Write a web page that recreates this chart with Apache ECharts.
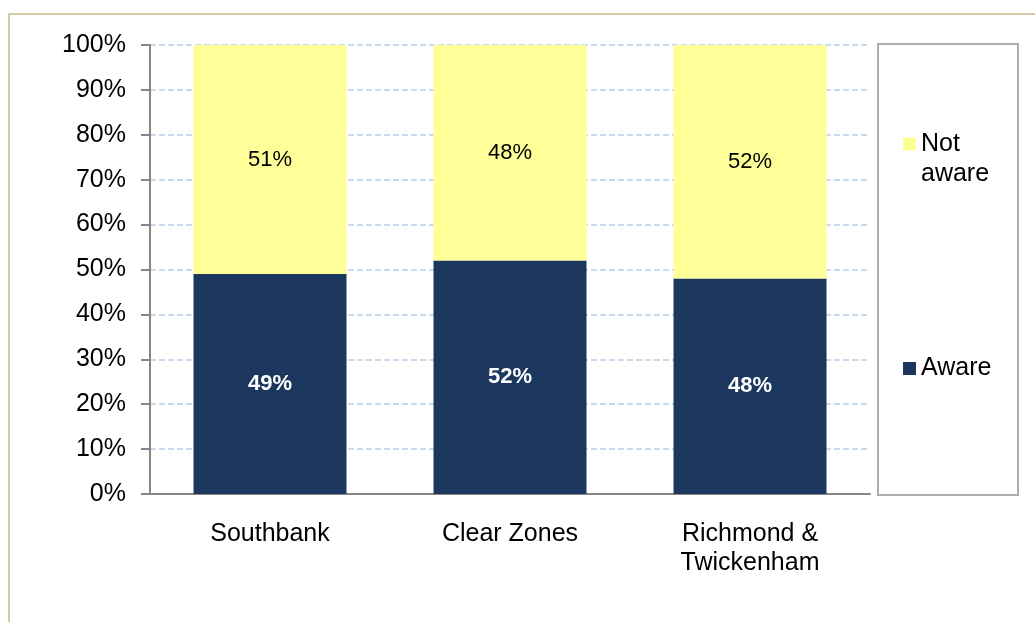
<!DOCTYPE html>
<html>
<head>
<meta charset="utf-8">
<script src="https://cdn.jsdelivr.net/npm/echarts@6/dist/echarts.min.js"></script>
<style>
  html, body { margin: 0; padding: 0; background: #fff; }
  #c1 { width: 1035px; height: 622px; }
</style>
</head>
<body>
<div id="c1"></div>
<script>
var categories = ['Southbank', 'Clear Zones', 'Richmond &\nTwickenham'];
var aware = [49, 52, 48];
var notAware = [51, 48, 52];
var yTicks = [0, 10, 20, 30, 40, 50, 60, 70, 80, 90, 100];

var navy = '#1b375e';
var yellow = '#ffff99';
var font = '"Liberation Sans", Arial, sans-serif';

var dom = document.getElementById("c1");
var myChart = echarts.init(dom);
var option = null;

option = {
    animation: false,
    textStyle: { fontFamily: font },
    grid: {
        left: 150,
        right: 165,
        top: 45,
        bottom: 128
    },
    legend: [
        {
            // blank first line so the marker sits beside "Not"
            data: ['Not aware'],
            orient: 'vertical',
            left: 903,
            top: 99,
            padding: 0,
            icon: 'rect',
            itemWidth: 13,
            itemHeight: 13,
            selectedMode: false,
            formatter: function (name) { return '\u00a0\nNot\naware'; },
            textStyle: { fontSize: 25, color: '#000', lineHeight: 30 }
        },
        {
            data: ['Aware'],
            orient: 'vertical',
            left: 903,
            top: 354,
            padding: 0,
            icon: 'rect',
            itemWidth: 13,
            itemHeight: 13,
            selectedMode: false,
            textStyle: { fontSize: 25, color: '#000', lineHeight: 29 }
        }
    ],
    graphic: [
        {
            type: 'rect',
            z: -10,
            shape: { x: 9, y: 14, width: 1100, height: 700 },
            style: { fill: 'none', stroke: '#d3caa6', lineWidth: 2 }
        },
        {
            type: 'rect',
            z: -5,
            shape: { x: 878, y: 44, width: 140, height: 451 },
            style: { fill: 'none', stroke: '#adadad', lineWidth: 2 }
        }
    ],
    xAxis: {
        type: 'category',
        data: categories,
        axisLine: { lineStyle: { color: '#868686', width: 2 } },
        axisTick: { length: 7, lineStyle: { color: '#868686', width: 2 } },
        axisLabel: { fontSize: 25, color: '#000', lineHeight: 29, margin: 26 }
    },
    yAxis: {
        type: 'value',
        min: yTicks[0],
        max: yTicks[yTicks.length - 1],
        interval: yTicks[1] - yTicks[0],
        axisLine: { show: true, lineStyle: { color: '#868686', width: 2 } },
        axisTick: { show: true, length: 9, lineStyle: { color: '#868686', width: 2 } },
        axisLabel: { fontSize: 25, color: '#000', margin: 24, formatter: '{value}%' },
        splitLine: { lineStyle: { color: '#b9cde5', width: 1.5, type: [6, 3] } }
    },
    series: [
        {
            name: 'Aware',
            type: 'bar',
            stack: 'total',
            barWidth: 153,
            data: aware,
            itemStyle: { color: navy },
            label: {
                show: true,
                position: 'inside',
                formatter: '{c}%',
                color: '#fff',
                fontWeight: 'bold',
                fontSize: 22
            }
        },
        {
            name: 'Not aware',
            type: 'bar',
            stack: 'total',
            barWidth: 153,
            data: notAware,
            itemStyle: { color: yellow },
            label: {
                show: true,
                position: 'inside',
                formatter: '{c}%',
                color: '#000',
                fontSize: 22
            }
        }
    ]
};

if (option && typeof option === "object") {
    myChart.setOption(option, true);
}
</script>
</body>
</html>
